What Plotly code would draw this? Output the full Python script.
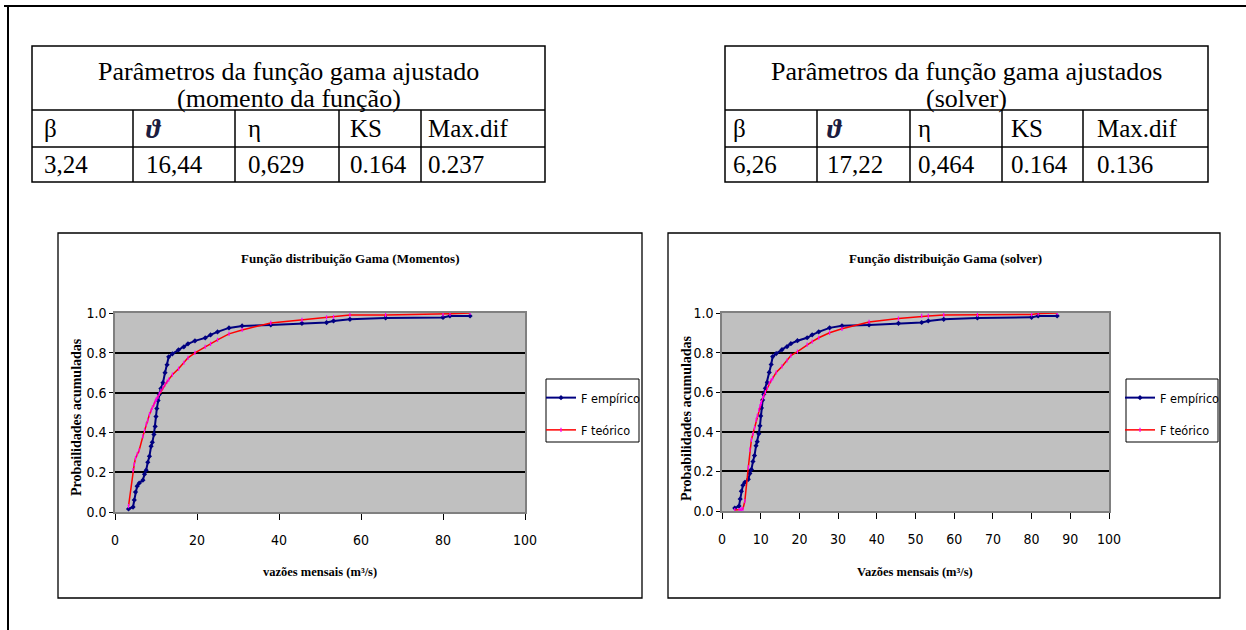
import plotly.graph_objects as go

W, H = 1246, 630

# ---------------- data ----------------
vazoes = [3.3, 4.4, 4.7, 5.0, 5.4, 5.9, 6.8, 7.2, 7.6, 8.0, 8.4, 8.8, 9.1, 9.5, 9.8,
          10.0, 10.2, 10.5, 10.8, 11.2, 11.7, 12.2, 12.7, 13.1, 14.0, 15.5, 16.8,
          17.8, 19.5, 22.0, 23.3, 25.0, 27.8, 31.0, 38.0, 45.6, 51.6, 53.3, 57.3,
          66.0, 80.0, 81.7, 86.6]
f_empirico = [0.015, 0.025, 0.06, 0.10, 0.13, 0.145, 0.16, 0.19, 0.21, 0.25, 0.28,
              0.33, 0.35, 0.39, 0.43, 0.48, 0.52, 0.56, 0.59, 0.62, 0.65, 0.70, 0.74,
              0.78, 0.795, 0.815, 0.83, 0.845, 0.86, 0.875, 0.89, 0.905, 0.925, 0.935,
              0.94, 0.948, 0.952, 0.96, 0.968, 0.975, 0.978, 0.985, 0.985]
f_teorico_momentos = [0.03, 0.21, 0.24, 0.27, 0.29, 0.31, 0.38, 0.41, 0.44, 0.46, 0.49,
                      0.51, 0.525, 0.54, 0.555, 0.565, 0.57, 0.58, 0.595, 0.61, 0.625,
                      0.64, 0.655, 0.665, 0.69, 0.72, 0.75, 0.775, 0.80, 0.83, 0.845,
                      0.865, 0.895, 0.915, 0.95, 0.965, 0.978, 0.98, 0.99, 0.99, 0.993,
                      0.996, 1.0]
f_teorico_solver = [0.005, 0.005, 0.005, 0.008, 0.01, 0.05, 0.22, 0.31, 0.36, 0.39, 0.42,
                    0.46, 0.48, 0.51, 0.53, 0.54, 0.55, 0.57, 0.58, 0.60, 0.62, 0.645,
                    0.66, 0.67, 0.70, 0.73, 0.76, 0.785, 0.805, 0.84, 0.855, 0.875, 0.90,
                    0.92, 0.955, 0.972, 0.985, 0.985, 0.99, 0.99, 0.993, 0.997, 1.0]

x_ticks_1 = [0, 20, 40, 60, 80, 100]
x_ticks_2 = [0, 10, 20, 30, 40, 50, 60, 70, 80, 90, 100]
y_ticks = [0.0, 0.2, 0.4, 0.6, 0.8, 1.0]

series_names = ["F empírico", "F teórico"]
chart_titles = ["Função distribuição Gama (Momentos)", "Função distribuição Gama (solver)"]
x_titles = ["vazões mensais (m³/s)", "Vazões mensais (m³/s)"]
y_titles = ["Probailidades acumuladas", "Probabilidades acumuladas"]

table_header_1 = ["Parâmetros da função gama ajustado", "(momento da função)"]
table_header_2 = ["Parâmetros da função gama ajustados", "(solver)"]
param_names = ["β", "ϑ", "η", "KS", "Max.dif"]
params_momentos = ["3,24", "16,44", "0,629", "0.164", "0.237"]
params_solver = ["6,26", "17,22", "0,464", "0.164", "0.136"]

# ---------------- helpers ----------------
def PX(x):
    return x / W

def PY(y):
    return 1 - y / H

SERIF = "Liberation Serif, Times New Roman, serif"
SANS = "DejaVu Sans Condensed, Liberation Sans Narrow, Liberation Sans, Arial, sans-serif"
NAVY = "#000080"

fig = go.Figure()

def emp_trace(xa, ya, lg, yvals):
    return go.Scatter(x=vazoes, y=yvals, name=series_names[0], mode="lines+markers",
                      line=dict(color=NAVY, width=2),
                      marker=dict(symbol="diamond", size=4, color=NAVY),
                      xaxis=xa, yaxis=ya, legend=lg, legendgroup="emp")

def teo_trace(xa, ya, lg, yvals):
    return go.Scatter(x=vazoes, y=yvals, name=series_names[1], mode="lines+markers",
                      line=dict(color="#FF0000", width=1.5),
                      marker=dict(symbol="line-ns-open", size=3, color="#FF00FF",
                                  line=dict(color="#FF00FF", width=1.2)),
                      xaxis=xa, yaxis=ya, legend=lg, legendgroup="teo")

fig.add_trace(emp_trace("x", "y", "legend", f_empirico))
fig.add_trace(teo_trace("x", "y", "legend", f_teorico_momentos))
fig.add_trace(emp_trace("x2", "y2", "legend2", f_empirico))
fig.add_trace(teo_trace("x2", "y2", "legend2", f_teorico_solver))

axis_common = dict(showline=True, linecolor="#808080", linewidth=1.5, mirror=True,
                   zeroline=False, ticks="outside", tickcolor="#000000", automargin=False,
                   tickfont=dict(family=SANS, size=14, color="#000000"))

legend_common = dict(xanchor="left", yanchor="top", bgcolor="rgba(0,0,0,0)",
                     borderwidth=0, traceorder="grouped", tracegroupgap=13,
                     font=dict(family=SANS, size=12.5, color="#000000"), itemwidth=30)

fig.update_layout(
    width=W, height=H,
    margin=dict(l=0, r=0, t=0, b=0, pad=0, autoexpand=False),
    paper_bgcolor="white",
    plot_bgcolor="#C0C0C0",
    showlegend=True,
    xaxis=dict(domain=[PX(115), PX(525)], anchor="y", range=[0, 100], tickvals=x_ticks_1,
               ticklen=6, showgrid=False, ticklabelstandoff=8, **axis_common),
    yaxis=dict(domain=[PY(512), PY(313)], anchor="x", range=[0, 1], tickvals=y_ticks,
               tickformat=".1f", ticklen=4, showgrid=True, gridcolor="#000000", gridwidth=1.5,
               **axis_common),
    xaxis2=dict(domain=[PX(722), PX(1109)], anchor="y2", range=[0, 100], tickvals=x_ticks_2,
                ticklen=6, showgrid=False, ticklabelstandoff=8, **axis_common),
    yaxis2=dict(domain=[PY(511), PY(313)], anchor="x2", range=[0, 1], tickvals=y_ticks,
                tickformat=".1f", ticklen=4, showgrid=True, gridcolor="#000000", gridwidth=1.5,
                **axis_common),
    legend=dict(x=PX(541), y=PY(383), **legend_common),
    legend2=dict(x=PX(1120), y=PY(383), **legend_common),
)

shapes = []
ann = []

def line(x0, y0, x1, y1, w=1.5, color="#000000"):
    shapes.append(dict(type="line", xref="paper", yref="paper", x0=PX(x0), y0=PY(y0),
                       x1=PX(x1), y1=PY(y1), line=dict(color=color, width=w)))

def rect(x0, y0, x1, y1, w=1.5, color="#000000", fill=None):
    d = dict(type="rect", xref="paper", yref="paper", x0=PX(x0), y0=PY(y0),
             x1=PX(x1), y1=PY(y1), line=dict(color=color, width=w))
    if fill:
        d["fillcolor"] = fill
    shapes.append(d)

def text(x, y, s, size, family=SERIF, xanchor="center", bold=False, italic=False,
         angle=0, color="#000000"):
    t = s
    if bold:
        t = "<b>" + t + "</b>"
    if italic:
        t = "<i>" + t + "</i>"
    ann.append(dict(xref="paper", yref="paper", x=PX(x), y=PY(y), text=t, showarrow=False,
                    xanchor=xanchor, yanchor="middle", textangle=angle,
                    font=dict(family=family, size=size, color=color)))

# outer frame (top and left)
line(4, 6, 1246, 6, w=2)
line(8, 6, 8, 630, w=2)

# tables
def table(cols, header, values, pads):
    top, r1, r2, bot = 46, 110, 147, 182
    rect(cols[0], top, cols[-1], bot)
    line(cols[0], r1, cols[-1], r1)
    line(cols[0], r2, cols[-1], r2)
    for c in cols[1:-1]:
        line(c, r1, c, bot)
    cx = (cols[0] + cols[-1]) / 2
    text(cx, 71, header[0], 26)
    text(cx, 98, header[1], 26)
    for i in range(5):
        x = cols[i] + pads[i]
        if i == 1:
            text(x, 129, param_names[i], 27, xanchor="left", bold=True, italic=True,
                 color="#1c1c40")
        else:
            text(x, 129, param_names[i], 25, xanchor="left")
        text(x, 165, values[i], 25, xanchor="left")

table([32, 133, 235, 339, 421, 545], table_header_1, params_momentos, [10, 11, 11, 9, 5])
table([725, 817, 910, 1002, 1083, 1208], table_header_2, params_solver, [6, 8, 6, 7, 12])

# chart frames
rect(58, 233, 642, 598, w=1.3)
rect(668, 233, 1220, 598, w=1.3)

# legend boxes
rect(546, 379, 639, 442, w=1, fill="white")
rect(1126, 379, 1218, 442, w=1, fill="white")

# chart titles and axis titles
text(350, 258, chart_titles[0], 13, bold=True)
text(945, 258, chart_titles[1], 13, bold=True)
text(320, 572, x_titles[0], 12.5, bold=True)
text(915, 572, x_titles[1], 12.5, bold=True)
text(76, 417, y_titles[0], 14, bold=True, angle=-90)
text(686, 418, y_titles[1], 14, bold=True, angle=-90)

fig.update_layout(shapes=shapes, annotations=ann)

fig.write_html("out.html")
